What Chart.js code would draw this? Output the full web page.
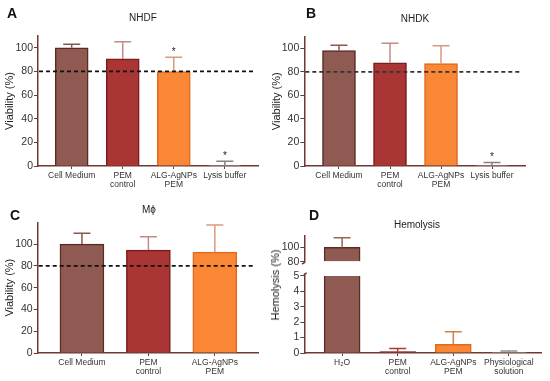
<!DOCTYPE html>
<html>
<head>
<meta charset="utf-8">
<script src="https://cdn.jsdelivr.net/npm/chart.js@4.4.1/dist/chart.umd.min.js"></script>
<style>
  body { margin: 0; background: #fff; width: 550px; height: 381px; position: relative; overflow: hidden;
         font-family: "Liberation Sans", Arial, sans-serif; color: #222; }
  canvas { position: absolute; }
  .txt { position: absolute; transform: translate(-50%, -50%); white-space: nowrap; }
  .letter { font-weight: bold; font-size: 14px; color: #111; }
  .ttl { font-size: 10px; }
  .ytitle { font-size: 11px; transform: translate(-50%, -50%) rotate(-90deg); }
</style>
</head>
<body>
<canvas id="chartA" width="275" height="190" style="left:0;top:0"></canvas>
<canvas id="chartB" width="280" height="190" style="left:270px;top:0"></canvas>
<canvas id="chartC" width="275" height="191" style="left:0;top:190px"></canvas>
<canvas id="chartDtop" width="280" height="45" style="left:270px;top:225px"></canvas>
<canvas id="chartDbot" width="280" height="116" style="left:270px;top:265px"></canvas>

<div class="txt letter" style="left:12px;top:13px">A</div>
<div class="txt letter" style="left:311px;top:13px">B</div>
<div class="txt letter" style="left:15px;top:215px">C</div>
<div class="txt letter" style="left:314px;top:215px">D</div>
<div class="txt ttl" style="left:143px;top:17px">NHDF</div>
<div class="txt ttl" style="left:415px;top:18px">NHDK</div>
<div class="txt ttl" style="left:149px;top:209px">Mϕ</div>
<div class="txt ttl" style="left:417px;top:224px">Hemolysis</div>
<div class="txt ytitle" style="left:275px;top:285px">Hemolysis (%)</div>

<script>
// ---- data ----
var labelsViab = [['Cell Medium'], ['PEM', 'control'], ['ALG-AgNPs', 'PEM'], ['Lysis buffer']];
var labelsMac = [['Cell Medium'], ['PEM', 'control'], ['ALG-AgNPs', 'PEM']];
var labelsHemo = [['H₂O'], ['PEM', 'control'], ['ALG-AgNPs', 'PEM'], ['Physiological', 'solution']];

var nhdfMean = [100, 90.6, 79.8, 0.3];
var nhdfErr = [3, 14.5, 12.2, 3.7];
var nhdfStars = ['', '', '*', '*'];

var nhdkMean = [98, 87.7, 86.9, 0.3];
var nhdkErr = [4.5, 16.6, 15.3, 2.6];
var nhdkStars = ['', '', '', '*'];

var macMean = [100, 94.5, 92.6];
var macErr = [10, 12.2, 25];

var hemoMean = [100, 0.1, 0.56, 0.05];
var hemoErr = [13.6, 0.2, 0.82, 0.08];

var viabTicks = [0, 20, 40, 60, 80, 100];
var hemoTicksTop = [80, 100];
var hemoTicksBot = [0, 1, 2, 3, 4, 5];
var cutoff = 80;

// ---- colours ----
var axisColor = '#6E3A30';
var fills = ['#8E5A52', '#A93535', '#F98736', '#9A9A9A'];
var borders = ['#5C2A20', '#7A1C1C', '#E0691E', '#7A7A7A'];
var errColors = ['#8A5848', '#C48A86', '#D99A7A', '#8A8080'];
var hemoErrColors = ['#9A6650', '#A83A3A', '#D08050', '#9A9090'];

var errorBars = {
  id: 'errorBars',
  afterDatasetsDraw: function(chart, args, opts) {
    if (!opts.values) return;
    var ctx = chart.ctx, y = chart.scales.y;
    var meta = chart.getDatasetMeta(0);
    ctx.save();
    meta.data.forEach(function(bar, i) {
      var v = opts.values[i], e = opts.errors[i];
      if (v == null || e == null || v > y.max) return;
      var py = y.getPixelForValue(v), pt = y.getPixelForValue(v + e);
      ctx.strokeStyle = opts.colors[i];
      ctx.lineWidth = 1.5;
      ctx.beginPath();
      ctx.moveTo(bar.x, py); ctx.lineTo(bar.x, pt);
      ctx.moveTo(bar.x - opts.cap / 2, pt); ctx.lineTo(bar.x + opts.cap / 2, pt);
      ctx.stroke();
      if (opts.stars && opts.stars[i]) {
        ctx.fillStyle = '#222';
        ctx.font = '10px "Liberation Sans", Arial';
        ctx.textAlign = 'center';
        ctx.textBaseline = 'alphabetic';
        ctx.fillText(opts.stars[i], bar.x, pt - 2.5);
      }
    });
    ctx.restore();
  }
};

var dashedLine = {
  id: 'dashedLine',
  afterDatasetsDraw: function(chart, args, opts) {
    if (opts.value == null) return;
    var ctx = chart.ctx, a = chart.chartArea;
    var py = chart.scales.y.getPixelForValue(opts.value);
    ctx.save();
    ctx.strokeStyle = opts.color;
    ctx.lineWidth = 1.8;
    ctx.setLineDash([4, 3]);
    ctx.beginPath();
    ctx.moveTo(a.left + 1, py); ctx.lineTo(a.right - 4, py);
    ctx.stroke();
    ctx.restore();
  }
};

// little hooks where the y axis is broken
var breakMark = {
  id: 'breakMark',
  afterDraw: function(chart, args, opts) {
    if (!opts.side) return;
    var ctx = chart.ctx, a = chart.chartArea;
    ctx.save();
    ctx.strokeStyle = axisColor;
    ctx.lineWidth = 1.5;
    ctx.beginPath();
    if (opts.side === 'bottom') {
      ctx.moveTo(a.left, a.bottom - 1);
      ctx.quadraticCurveTo(a.left, a.bottom + 1, a.left - 2.5, a.bottom + 1);
    } else {
      ctx.moveTo(a.left, a.top + 1);
      ctx.quadraticCurveTo(a.left, a.top - 1, a.left + 2.5, a.top - 1);
    }
    ctx.stroke();
    ctx.restore();
  }
};

function makeChart(id, o) {
  var points = o.values.map(function(v, i) { return { x: i, y: v }; });
  var n = o.values.length;
  return new Chart(document.getElementById(id), {
    type: 'bar',
    data: {
      datasets: [{
        data: points,
        backgroundColor: fills.slice(0, n),
        borderColor: borders.slice(0, n),
        borderWidth: 1.5,
        borderSkipped: 'bottom',
        barThickness: o.barWidth,
        base: o.base,
        clip: o.clip
      }]
    },
    plugins: [errorBars, dashedLine, breakMark],
    options: {
      responsive: false,
      animation: false,
      layout: { padding: o.padding },
      plugins: {
        legend: { display: false },
        tooltip: { enabled: false },
        errorBars: { values: o.errValues, errors: o.errors, colors: o.errColors, stars: o.stars, cap: 17 },
        dashedLine: { value: o.dashed, color: o.dashColor },
        breakMark: { side: o.breakSide }
      },
      scales: {
        x: {
          type: 'linear',
          offset: false,
          display: o.showX,
          min: o.xmin, max: o.xmax,
          afterBuildTicks: function(s) { s.ticks = o.labels.map(function(l, i) { return { value: i }; }); },
          afterFit: function(s) { s.height = o.xHeight; },
          border: { color: axisColor, width: 1.5 },
          grid: { offset: false, drawOnChartArea: false, color: axisColor, tickLength: 3, lineWidth: 1 },
          ticks: {
            autoSkip: false, maxRotation: 0, padding: 2, color: '#333',
            font: { family: '"Liberation Sans", Arial', size: 8.5, lineHeight: 1.05 },
            callback: function(v, i) { return o.labels[i]; }
          }
        },
        y: {
          min: o.ymin, max: o.ymax,
          afterBuildTicks: function(s) { s.ticks = o.ticks.map(function(t) { return { value: t }; }); },
          afterFit: function(s) { s.width = o.yWidth; },
          border: { color: axisColor, width: 1.5 },
          grid: { drawOnChartArea: false, color: axisColor, tickLength: 4, lineWidth: 1 },
          ticks: { padding: 1, color: '#333', font: { family: '"Liberation Sans", Arial', size: 10.5 } },
          title: {
            display: !!o.yTitle, text: o.yTitle, color: '#222',
            padding: { top: o.titlePad, bottom: 0 },
            font: { family: '"Liberation Sans", Arial', size: 11 }
          }
        }
      }
    }
  });
}

makeChart('chartA', {
  labels: labelsViab, values: nhdfMean, errValues: nhdfMean, errors: nhdfErr, errColors: errColors, stars: nhdfStars,
  xmin: -0.66, xmax: 3.65, barWidth: 33, ymin: 0, ymax: 110, ticks: viabTicks,
  yWidth: 38, xHeight: 24, padding: { top: 36, right: 17, left: 0, bottom: 0 },
  yTitle: 'Viability (%)', titlePad: 3, dashed: cutoff, dashColor: '#111', showX: true
});

makeChart('chartB', {
  labels: labelsViab, values: nhdkMean, errValues: nhdkMean, errors: nhdkErr, errColors: errColors, stars: nhdkStars,
  xmin: -0.68, xmax: 3.66, barWidth: 33, ymin: 0, ymax: 110, ticks: viabTicks,
  yWidth: 34.3, xHeight: 24, padding: { top: 36.5, right: 24.3, left: 0, bottom: 0 },
  yTitle: 'Viability (%)', titlePad: 0, dashed: cutoff, dashColor: '#333', showX: true
});

makeChart('chartC', {
  labels: labelsMac, values: macMean, errValues: macMean, errors: macErr, errColors: errColors, stars: null,
  xmin: -0.666, xmax: 2.65, barWidth: 44, ymin: 0, ymax: 120, ticks: viabTicks,
  yWidth: 37.7, xHeight: 28, padding: { top: 32.3, right: 17, left: 0, bottom: 0 },
  yTitle: 'Viability (%)', titlePad: 3, dashed: cutoff, dashColor: '#111', showX: true
});

// broken axis: upper segment shows only values above the break
var hemoTopVals = hemoMean.map(function(v) { return v > cutoff ? v : null; });
makeChart('chartDtop', {
  labels: labelsHemo, values: hemoTopVals, errValues: hemoTopVals, errors: hemoErr, errColors: hemoErrColors, stars: null,
  xmin: -0.68, xmax: 3.59, barWidth: 36, ymin: 78.6, ymax: 116.4, ticks: hemoTicksTop, base: cutoff,
  yWidth: 34.3, xHeight: 0, padding: { top: 10.7, right: 8.3, left: 0, bottom: 6.7 },
  yTitle: null, titlePad: 0, dashed: null, showX: false, breakSide: 'bottom'
});

makeChart('chartDbot', {
  labels: labelsHemo, values: hemoMean, errValues: hemoMean, errors: hemoErr, errColors: hemoErrColors, stars: null,
  xmin: -0.68, xmax: 3.59, barWidth: 36, ymin: 0, ymax: 5.11, ticks: hemoTicksBot,
  clip: { top: -1.7, left: 0, right: 0, bottom: 0 },
  yWidth: 34.3, xHeight: 28, padding: { top: 9.3, right: 8.3, left: 0, bottom: 0 },
  yTitle: null, titlePad: 0, dashed: null, showX: true, breakSide: 'top'
});
</script>
</body>
</html>
